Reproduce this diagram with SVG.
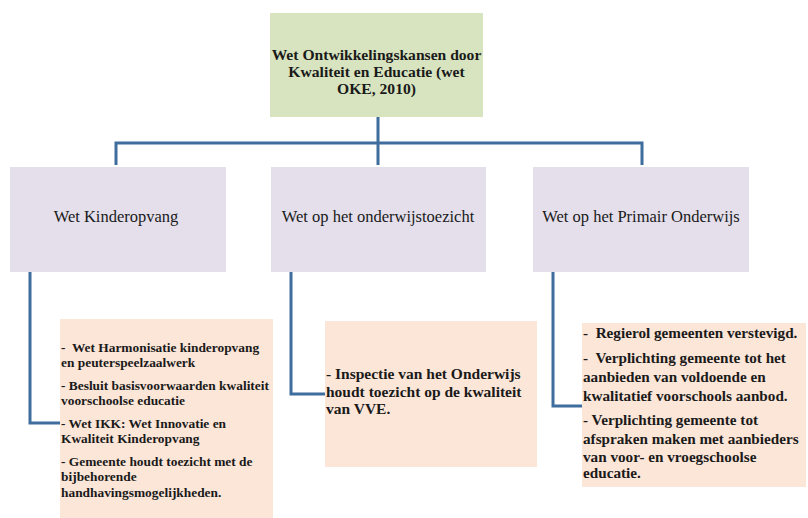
<svg xmlns="http://www.w3.org/2000/svg" width="808" height="518" viewBox="0 0 808 518">
<style>
.top{fill:#d8e4bf}
.mid{fill:#e4dfeb}
.det{fill:#fce6d8}
.con{fill:none;stroke:#3f6d9e;stroke-width:3}
text{font-family:"Liberation Serif","DejaVu Serif",serif;fill:#1a1a1a}
.tb{font-weight:bold;font-size:15.6px;text-anchor:middle}
.tm{font-size:16.5px;text-anchor:middle}
.tl{font-weight:bold;font-size:13.4px}
.tc{font-weight:bold;font-size:15.5px}
.tr{font-weight:bold;font-size:15.2px}
</style>
<rect width="808" height="518" fill="#ffffff"/>
<g id="connectors">
<path class="con" d="M378,117 V143 M116,165 V143 H642 V165 M378,143 V165"/>
<path class="con" d="M30,272 V423 H60"/>
<path class="con" d="M291,272 V394 H325"/>
<path class="con" d="M553,272 V406 H582"/>
</g>
<g id="oke">
<rect class="top" x="270" y="13" width="213" height="104"/>
<text class="tb" x="376.5" y="60">Wet Ontwikkelingskansen door</text>
<text class="tb" x="376.5" y="77">Kwaliteit en Educatie (wet</text>
<text class="tb" x="376.5" y="94">OKE, 2010)</text>
</g>
<g id="kinderopvang">
<rect class="mid" x="10" y="167" width="216" height="105"/>
<text class="tm" x="116" y="222">Wet Kinderopvang</text>
</g>
<g id="toezicht">
<rect class="mid" x="271" y="167" width="215" height="105"/>
<text class="tm" x="378" y="222">Wet op het onderwijstoezicht</text>
</g>
<g id="primair">
<rect class="mid" x="533" y="167" width="216" height="105"/>
<text class="tm" x="641" y="222">Wet op het Primair Onderwijs</text>
</g>
<g id="detail-kinderopvang">
<rect class="det" x="60" y="319" width="213" height="199"/>
<text class="tl" x="61" y="352" xml:space="preserve">-  Wet Harmonisatie kinderopvang</text>
<text class="tl" x="61" y="367">en peuterspeelzaalwerk</text>
<text class="tl" x="61" y="390">- Besluit basisvoorwaarden kwaliteit</text>
<text class="tl" x="61" y="405">voorschoolse educatie</text>
<text class="tl" x="61" y="428">- Wet IKK: Wet Innovatie en</text>
<text class="tl" x="61" y="443">Kwaliteit Kinderopvang</text>
<text class="tl" x="61" y="466">- Gemeente houdt toezicht met de</text>
<text class="tl" x="61" y="481">bijbehorende</text>
<text class="tl" x="61" y="497">handhavingsmogelijkheden.</text>
</g>
<g id="detail-toezicht">
<rect class="det" x="325" y="321" width="212" height="146"/>
<text class="tc" x="326" y="379">- Inspectie van het Onderwijs</text>
<text class="tc" x="326" y="397">houdt toezicht op de kwaliteit</text>
<text class="tc" x="326" y="414">van VVE.</text>
</g>
<g id="detail-primair">
<rect class="det" x="582" y="323" width="224" height="164"/>
<text class="tr" x="583" y="338" xml:space="preserve">-  Regierol gemeenten verstevigd.</text>
<text class="tr" x="583" y="363" xml:space="preserve">-  Verplichting gemeente tot het</text>
<text class="tr" x="583" y="382">aanbieden van voldoende en</text>
<text class="tr" x="583" y="401">kwalitatief voorschools aanbod.</text>
<text class="tr" x="583" y="425">- Verplichting gemeente tot</text>
<text class="tr" x="583" y="444">afspraken maken met aanbieders</text>
<text class="tr" x="583" y="462">van voor- en vroegschoolse</text>
<text class="tr" x="583" y="478">educatie.</text>
</g>
</svg>
